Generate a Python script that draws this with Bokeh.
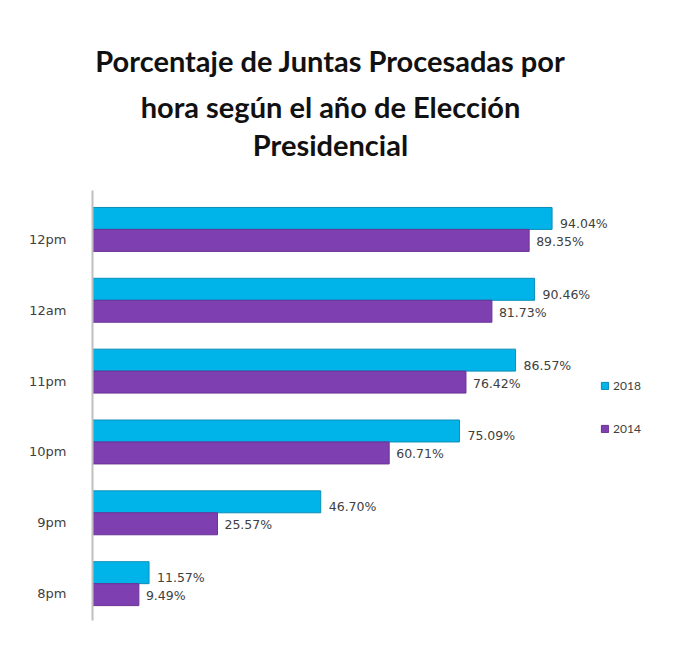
from bokeh.plotting import figure
from bokeh.models import ColumnDataSource, Legend, LegendItem, Label, FixedTicker
from bokeh.embed import file_html
from bokeh.resources import INLINE

categories = ["8pm", "9pm", "10pm", "11pm", "12am", "12pm"]
values_2018 = [11.57, 46.70, 75.09, 86.57, 90.46, 94.04]
values_2014 = [9.49, 25.57, 60.71, 76.42, 81.73, 89.35]
series_names = ["2018", "2014"]
title_lines = ["Porcentaje de Juntas Procesadas por",
               "hora según el año de Elección",
               "Presidencial"]

C18 = "#00B4EA"
C14 = "#7E40B0"
TXT = "#404040"
FONT = "Lato"
LFONT = "DejaVu Sans"

bar_h = 0.31
idx = list(range(len(categories)))
src18 = ColumnDataSource(dict(
    y=[i + bar_h / 2 for i in idx], v=values_2018,
    lab=[f"{v:.2f}%" for v in values_2018]))
src14 = ColumnDataSource(dict(
    y=[i - bar_h / 2 for i in idx], v=values_2014,
    lab=[f"{v:.2f}%" for v in values_2014]))

p = figure(width=674, height=634, output_backend="svg", toolbar_location=None,
           x_range=(0, 115), y_range=(-0.52, 8.09),
           min_border_left=92, min_border_right=20,
           min_border_top=10, min_border_bottom=14)
p.outline_line_color = None
p.xgrid.visible = False
p.ygrid.visible = False
p.xaxis.visible = False

r18 = p.hbar(y="y", right="v", left=0, height=bar_h, source=src18,
             fill_color=C18, line_color="#0A8DB8", line_width=1)
r14 = p.hbar(y="y", right="v", left=0, height=bar_h, source=src14,
             fill_color=C14, line_color="#6A3296", line_width=1)

p.text(x="v", y="y", text="lab", source=src18, x_offset=8, y_offset=5,
       text_font_size="12.5px", text_color=TXT, text_baseline="middle",
       text_font={"value": LFONT})
p.text(x="v", y="y", text="lab", source=src14, x_offset=7, y_offset=1,
       text_font_size="12.5px", text_color=TXT, text_baseline="middle",
       text_font={"value": LFONT})

ax = p.yaxis[0]
ax.bounds = (-0.52, 5.55)
ax.ticker = FixedTicker(ticks=[i - 0.14 for i in idx])
ax.major_label_overrides = {i - 0.14: c for i, c in zip(idx, categories)}
ax.major_tick_line_color = None
ax.minor_tick_line_color = None
ax.axis_line_color = "#BFBFBF"
ax.axis_line_width = 2
ax.major_label_text_font = LFONT
ax.major_label_text_font_size = "13px"
ax.major_label_text_color = TXT
ax.major_label_standoff = 20

legend = Legend(items=[LegendItem(label=series_names[0], renderers=[r18]),
                       LegendItem(label=series_names[1], renderers=[r14])],
                location=(508, 184), orientation="vertical")
legend.border_line_color = None
legend.background_fill_alpha = 0
legend.padding = 0
legend.margin = 0
legend.spacing = 28
legend.glyph_width = 9
legend.glyph_height = 9
legend.label_height = 12
legend.label_standoff = 4
legend.label_text_font = FONT
legend.label_text_font_size = "12px"
legend.label_text_color = TXT
p.add_layout(legend)

title_y = [7.39, 6.74, 6.20]
for line, ty in zip(title_lines, title_y):
    p.add_layout(Label(x=48.7, y=ty, text=line, text_align="center",
                       text_baseline="middle", text_font=FONT,
                       text_font_style="bold", text_font_size="29px",
                       text_color="#111111"))

open("out.html", "w").write(file_html(p, INLINE))
